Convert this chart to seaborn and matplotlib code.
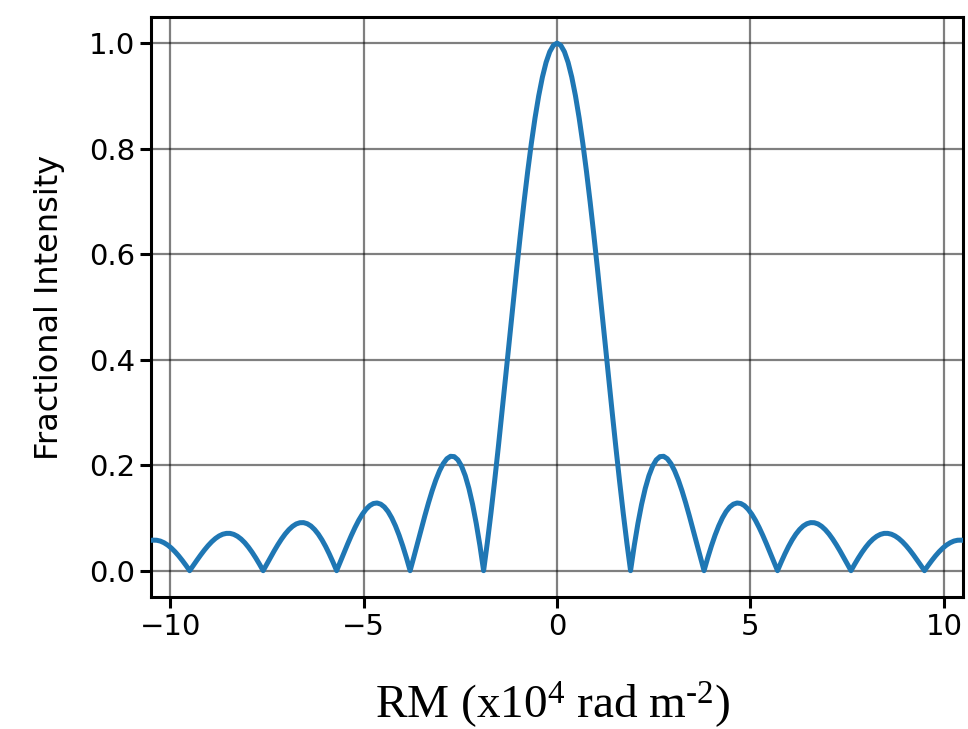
import matplotlib
matplotlib.use("Agg")
import matplotlib.pyplot as plt
import seaborn as sns
import pandas as pd

# RM (x10^4 rad m^-2), positive half; the curve is symmetric about 0
rm_half = [0.000, 0.095, 0.190, 0.285, 0.380, 0.475, 0.570, 0.665, 0.760, 0.855,
           0.950, 1.045, 1.140, 1.235, 1.330, 1.425, 1.520, 1.615, 1.710, 1.805,
           1.900, 1.995, 2.090, 2.185, 2.280, 2.375, 2.470, 2.565, 2.660, 2.755,
           2.850, 2.945, 3.040, 3.135, 3.230, 3.325, 3.420, 3.515, 3.610, 3.705,
           3.800, 3.895, 3.990, 4.085, 4.180, 4.275, 4.370, 4.465, 4.560, 4.655,
           4.750, 4.845, 4.940, 5.035, 5.130, 5.225, 5.320, 5.415, 5.510, 5.605,
           5.700, 5.795, 5.890, 5.985, 6.080, 6.175, 6.270, 6.365, 6.460, 6.555,
           6.650, 6.745, 6.840, 6.935, 7.030, 7.125, 7.220, 7.315, 7.410, 7.505,
           7.600, 7.695, 7.790, 7.885, 7.980, 8.075, 8.170, 8.265, 8.360, 8.455,
           8.550, 8.645, 8.740, 8.835, 8.930, 9.025, 9.120, 9.215, 9.310, 9.405,
           9.500, 9.595, 9.690, 9.785, 9.880, 9.975, 10.070, 10.165, 10.260, 10.355,
           10.450, 10.500]
intensity_half = [1.0000, 0.9959, 0.9836, 0.9634, 0.9355, 0.9003, 0.8584, 0.8103, 0.7568, 0.6986,
                  0.6366, 0.5716, 0.5046, 0.4363, 0.3679, 0.3001, 0.2339, 0.1700, 0.1093, 0.0524,
                  0.0000, 0.0474, 0.0894, 0.1257, 0.1559, 0.1801, 0.1981, 0.2101, 0.2162, 0.2168,
                  0.2122, 0.2028, 0.1892, 0.1719, 0.1515, 0.1286, 0.1039, 0.0781, 0.0518, 0.0255,
                  0.0000, 0.0243, 0.0468, 0.0672, 0.0850, 0.1000, 0.1120, 0.1207, 0.1261, 0.1283,
                  0.1273, 0.1233, 0.1164, 0.1070, 0.0954, 0.0818, 0.0668, 0.0507, 0.0339, 0.0169,
                  0.0000, 0.0163, 0.0317, 0.0459, 0.0585, 0.0693, 0.0780, 0.0847, 0.0890, 0.0911,
                  0.0909, 0.0886, 0.0841, 0.0777, 0.0696, 0.0600, 0.0492, 0.0375, 0.0252, 0.0126,
                  0.0000, 0.0123, 0.0240, 0.0348, 0.0445, 0.0530, 0.0599, 0.0652, 0.0688, 0.0707,
                  0.0707, 0.0691, 0.0658, 0.0610, 0.0548, 0.0474, 0.0390, 0.0298, 0.0201, 0.0101,
                  0.0000, 0.0099, 0.0193, 0.0281, 0.0360, 0.0429, 0.0486, 0.0530, 0.0561, 0.0577,
                  0.0579, 0.0574]

x_ticks = [-10, -5, 0, 5, 10]
y_ticks = [0.0, 0.2, 0.4, 0.6, 0.8, 1.0]

rm = [-v for v in reversed(rm_half[1:])] + rm_half
intensity = list(reversed(intensity_half[1:])) + intensity_half
df = pd.DataFrame({"rm": rm, "intensity": intensity})

sns.set_style("ticks")
plt.rcParams["font.family"] = ["DejaVu Sans"]
plt.rcParams["text.color"] = "black"
plt.rcParams["axes.labelcolor"] = "black"
plt.rcParams["xtick.color"] = "black"
plt.rcParams["ytick.color"] = "black"
plt.rcParams["mathtext.fontset"] = "custom"
plt.rcParams["mathtext.rm"] = "Liberation Serif"
plt.rcParams["mathtext.it"] = "Liberation Serif:italic"

fig = plt.figure(figsize=(9.68, 7.29), dpi=100)
ax = fig.add_axes([0.156, 0.181, 0.839, 0.796])

sns.lineplot(data=df, x="rm", y="intensity", ax=ax, color="#1f77b4",
             linewidth=3.6, sort=False, zorder=3)

ax.set_xlim(-10.5, 10.5)
ax.set_ylim(-0.05, 1.05)
ax.set_xticks(x_ticks)
ax.set_yticks(y_ticks)
ax.set_xticklabels(["\u22125" if t == -5 else ("\u221210" if t == -10 else str(t)) for t in x_ticks])
ax.set_yticklabels([f"{t:.1f}" for t in y_ticks])
ax.grid(True, color="black", alpha=0.5, linewidth=1.6)
ax.tick_params(labelsize=21, length=8, width=2.2, color="black", labelcolor="black")
for sp in ax.spines.values():
    sp.set_linewidth(2.2)
    sp.set_color("black")

ax.set_xlabel("")
ax.set_ylabel("Fractional Intensity", fontsize=23, labelpad=17)

fig.text(0.571, 0.015, r"RM (x10$^{4}$ rad m$^{\text{-}2}$)", fontsize=34,
         family="Liberation Serif", ha="center", va="baseline")

fig.savefig("out.png", dpi=100)
